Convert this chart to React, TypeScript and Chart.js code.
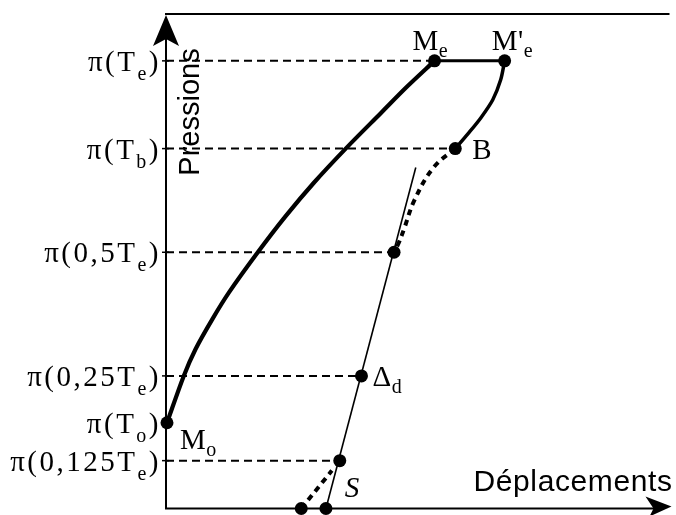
import React, { useEffect, useRef } from 'react';
import { Chart, registerables } from 'chart.js';

Chart.register(...registerables);

// Axis extents (arbitrary units: displacement / pressure)
const X_MAX = 510;
const Y_MAX = 496;

// Pressure levels shown on the vertical axis
const tickValues = [449, 361, 257, 133, 86, 48];
const tickLabels = ['π(T_e)', 'π(T_b)', 'π(0,5T_e)', 'π(0,25T_e)', 'π(T_o)', 'π(0,125T_e)'];

// Loading curve Mo -> Me
const loadX = [1, 18, 30, 47, 64, 93, 121, 150, 183, 218, 244, 272];
const loadY = [86, 133, 160, 190, 217, 257, 293, 327, 362, 397, 423, 449];

// Plateau Me -> M'e
const plateauX = [272, 343];
const plateauY = [449, 449];

// Unloading curve M'e -> B
const unloadX = [343, 339, 331, 319, 306, 293];
const unloadY = [449, 430, 410, 392, 376, 361];

// Dotted continuation B -> 0,5Te
const dottedUpperX = [293, 271, 252, 241, 236, 231];
const dottedUpperY = [361, 342, 310, 280, 267, 257];

// Straight line through S, Δd, 0,5Te
const straightX = [162, 253];
const straightY = [0, 342];

// Dotted segment near the origin of displacement
const dottedLowerX = [137, 168];
const dottedLowerY = [0, 38];

// Dashed reference levels (from the axis to the point)
const levelY = [449, 361, 257, 133, 48];
const levelEndX = [272, 293, 231, 198, 176];

// Marked points
const pointX = [1, 272, 343, 293, 231, 198, 176, 137, 162];
const pointY = [86, 449, 449, 361, 257, 133, 48, 0, 0];
const pointNames = ['M_o', 'M_e', "M'_e", 'B', '', 'Δ_d', 'S', '', ''];

const xAxisTitle = 'Déplacements';
const yAxisTitle = 'Pressions';

const toXY = (xs: number[], ys: number[]) => xs.map((x, i) => ({ x, y: ys[i] }));

type Part = { t: string; sub: boolean };
function parseSub(s: string): Part[] {
  const parts: Part[] = [];
  let buf = '';
  for (let i = 0; i < s.length; i++) {
    if (s[i] === '_' && i + 1 < s.length) {
      if (buf) parts.push({ t: buf, sub: false });
      parts.push({ t: s[i + 1], sub: true });
      buf = '';
      i++;
    } else buf += s[i];
  }
  if (buf) parts.push({ t: buf, sub: false });
  return parts;
}

function drawRich(
  ctx: CanvasRenderingContext2D,
  text: string,
  x: number,
  y: number,
  align: 'left' | 'right',
  mainFont: string,
  subFont: string,
  subDy: number,
  spacing: string
) {
  const parts = parseSub(text);
  (ctx as any).letterSpacing = spacing;
  const widths = parts.map((p) => {
    ctx.font = p.sub ? subFont : mainFont;
    return ctx.measureText(p.t).width;
  });
  const total = widths.reduce((a, b) => a + b, 0);
  let cx = align === 'right' ? x - total : x;
  ctx.textAlign = 'left';
  ctx.textBaseline = 'alphabetic';
  parts.forEach((p, i) => {
    ctx.font = p.sub ? subFont : mainFont;
    ctx.fillText(p.t, cx, p.sub ? y + subDy : y);
    cx += widths[i];
  });
  (ctx as any).letterSpacing = '0px';
}

// label offsets (pixels) relative to each marked point
const LABEL_OFFSETS: Record<string, [number, number, string?]> = {
  M_o: [13, 26],
  M_e: [-22, -11],
  "M'_e": [-13, -11],
  B: [17, 10],
  'Δ_d': [11, 10],
  S: [5, 36, 'italic'],
};

const decorPlugin = {
  id: 'decor',
  beforeDatasetsDraw(chart: any) {
    const { ctx, chartArea, scales } = chart;
    const { left, right, top, bottom } = chartArea;
    ctx.save();
    ctx.strokeStyle = '#000';
    ctx.fillStyle = '#000';
    ctx.lineWidth = 2;
    ctx.setLineDash([]);
    // top border
    ctx.beginPath();
    ctx.moveTo(left - 1, top);
    ctx.lineTo(right, top);
    ctx.stroke();
    // y axis
    ctx.beginPath();
    ctx.moveTo(left, top + 10);
    ctx.lineTo(left, bottom);
    ctx.stroke();
    // x axis
    ctx.beginPath();
    ctx.moveTo(left - 1, bottom);
    ctx.lineTo(right - 10, bottom);
    ctx.stroke();
    // y arrow head
    ctx.beginPath();
    ctx.moveTo(left, top + 1);
    ctx.lineTo(left - 13, top + 32);
    ctx.lineTo(left, top + 25);
    ctx.lineTo(left + 13, top + 32);
    ctx.closePath();
    ctx.fill();
    // x arrow head
    ctx.beginPath();
    ctx.moveTo(right + 2, bottom - 2);
    ctx.lineTo(right - 24, bottom - 12);
    ctx.lineTo(right - 16, bottom);
    ctx.lineTo(right - 20, bottom + 8);
    ctx.closePath();
    ctx.fill();
    // small tick marks on the y axis
    ctx.lineWidth = 1.5;
    tickValues.forEach((v) => {
      const y = scales.y.getPixelForValue(v);
      ctx.beginPath();
      ctx.moveTo(left - 4, y);
      ctx.lineTo(left + 3, y);
      ctx.stroke();
    });
    ctx.restore();
  },
  afterDraw(chart: any) {
    const { ctx, chartArea, scales } = chart;
    const { left, right, top, bottom } = chartArea;
    ctx.save();
    ctx.fillStyle = '#000';
    // tick labels
    tickValues.forEach((v, i) => {
      const y = scales.y.getPixelForValue(v);
      drawRich(ctx, tickLabels[i], left - 5, y + 10, 'right',
        '29px "Liberation Serif", serif', '20px "Liberation Serif", serif', 9, '2.5px');
    });
    // point labels
    pointNames.forEach((name, i) => {
      if (!name) return;
      const off = LABEL_OFFSETS[name] || [8, 8];
      const px = scales.x.getPixelForValue(pointX[i]);
      const py = scales.y.getPixelForValue(pointY[i]);
      const style = off[2] ? off[2] + ' ' : '';
      drawRich(ctx, name, px + off[0], py + off[1], 'left',
        style + '29px "Liberation Serif", serif', style + '20px "Liberation Serif", serif', 7, '0.5px');
    });
    // axis titles
    ctx.font = '30px "Liberation Sans", Arial, sans-serif';
    (ctx as any).letterSpacing = '0.6px';
    ctx.textAlign = 'right';
    ctx.textBaseline = 'alphabetic';
    ctx.fillText(xAxisTitle, right + 3, bottom - 18);
    ctx.translate(left + 33, top + 98);
    ctx.rotate(-Math.PI / 2);
    ctx.font = '29px "Liberation Sans", Arial, sans-serif';
    (ctx as any).letterSpacing = '0px';
    ctx.textAlign = 'center';
    ctx.fillText(yAxisTitle, 0, 0);
    ctx.restore();
  },
};

export default function App() {
  const ref = useRef<HTMLCanvasElement | null>(null);
  useEffect(() => {
    if (!ref.current) return;
    const base = {
      showLine: true,
      pointRadius: 0,
      borderColor: '#000',
      backgroundColor: '#000',
      fill: false,
      clip: false as any,
    };
    const datasets: any[] = [
      {
        ...base,
        data: toXY(pointX, pointY),
        showLine: false,
        pointRadius: 6.5,
        pointBackgroundColor: '#000',
        pointBorderWidth: 0,
      },
      { ...base, data: toXY(loadX, loadY), borderWidth: 4.2, tension: 0.3 },
      { ...base, data: toXY(plateauX, plateauY), borderWidth: 3 },
      { ...base, data: toXY(unloadX, unloadY), borderWidth: 3.5, tension: 0.3 },
      { ...base, data: toXY(dottedUpperX, dottedUpperY), borderWidth: 4, borderDash: [6, 5], tension: 0.4 },
      { ...base, data: toXY(straightX, straightY), borderWidth: 1.6 },
      { ...base, data: toXY(dottedLowerX, dottedLowerY), borderWidth: 4, borderDash: [6, 5] },
      ...levelY.map((y, i) => ({
        ...base,
        data: [{ x: 0, y }, { x: levelEndX[i], y }],
        borderWidth: 2,
        borderDash: [8, 5],
      })),
    ];
    const chart = new Chart(ref.current, {
      type: 'scatter',
      data: { datasets },
      options: {
        responsive: false,
        animation: false,
        devicePixelRatio: 1,
        events: [],
        layout: { padding: { left: 166, top: 14, right: 0, bottom: 5 } },
        scales: {
          x: { type: 'linear', min: 0, max: X_MAX, display: false },
          y: { type: 'linear', min: 0, max: Y_MAX, display: false },
        },
        plugins: { legend: { display: false }, tooltip: { enabled: false } },
      },
      plugins: [decorPlugin],
    });
    return () => chart.destroy();
  }, []);
  return (
    <div style={{ position: 'fixed', left: 0, top: 0, width: 676, height: 515, background: '#fff' }}>
      <canvas ref={ref} width={676} height={515} style={{ display: 'block' }} />
    </div>
  );
}
